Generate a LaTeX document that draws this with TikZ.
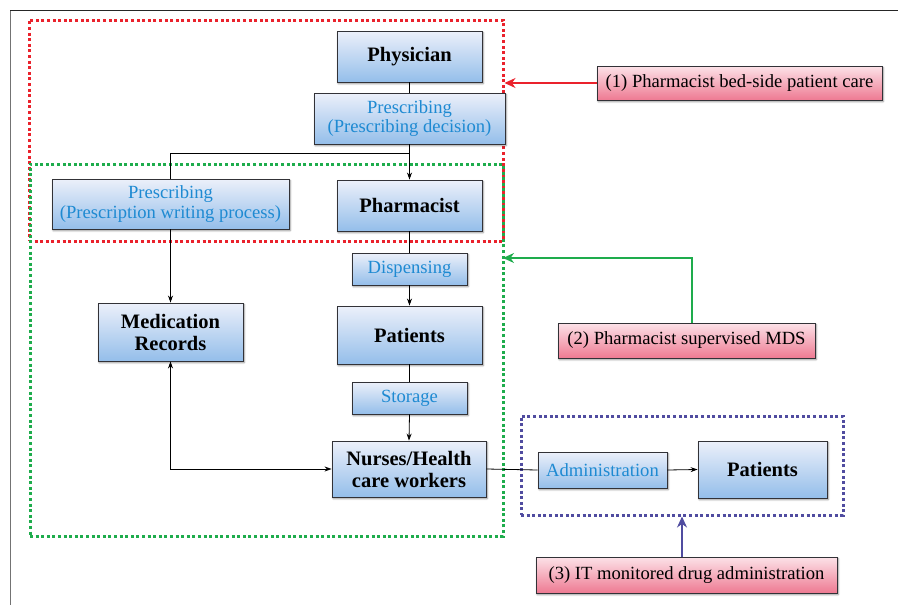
\documentclass[tikz,border=0pt]{standalone}
\usepackage{fontspec}
\setmainfont{Liberation Serif}
\usetikzlibrary{arrows.meta,shadows.blur}

\definecolor{boxtop}{RGB}{236,240,250}
\definecolor{boxbot}{RGB}{148,190,234}
\definecolor{pinktop}{RGB}{252,226,232}
\definecolor{pinkbot}{RGB}{238,122,146}
\definecolor{proc}{RGB}{30,138,210}
\definecolor{zonered}{RGB}{234,34,44}
\definecolor{zonegreen}{RGB}{30,172,76}
\definecolor{zoneblue}{RGB}{80,76,160}
\definecolor{edge}{RGB}{50,50,55}

\tikzset{
  base/.style={draw=edge, line width=0.9pt, inner sep=0pt, align=center,
    blur shadow={shadow xshift=1.2pt, shadow yshift=-1.6pt, shadow blur steps=6, shadow opacity=45}},
  actor/.style={base, top color=boxtop, bottom color=boxbot,
    font=\fontsize{20.5}{22}\selectfont\bfseries},
  process/.style={base, top color=boxtop, bottom color=boxbot, text=proc,
    font=\fontsize{18.6}{19.5}\selectfont},
  model/.style={base, top color=pinktop, bottom color=pinkbot,
    font=\fontsize{18.6}{19.5}\selectfont},
  zone/.style={draw=#1, line width=3pt, dash pattern=on 3pt off 2.6pt, inner sep=0pt},
  flow/.style={draw=black, line width=0.8pt},
  arr/.style={flow, -{Stealth[length=7pt,width=5pt]}},
  twoarr/.style={flow, {Stealth[length=7pt,width=5pt]}-{Stealth[length=7pt,width=5pt]}},
  callout/.style={draw=#1, line width=1.2pt, -{Stealth[length=11pt,width=10pt,inset=3.5pt]}},
}

\begin{document}
\begin{tikzpicture}[x=1pt,y=-1pt]
\useasboundingbox (0,0) rectangle (898,605);

% page frame
\draw[line width=1pt, black!55] (10,605) -- (10,10);
\draw[line width=1pt, black!85] (10,10) -- (898,10);

% zones
\node[zone=zonered, minimum width=474pt, minimum height=221pt] (redzone) at (266,130.5) {};
\node[zone=zonegreen, minimum width=473pt, minimum height=372pt] (greenzone) at (266.5,350) {};
\node[zone=zoneblue, minimum width=322pt, minimum height=99pt] (bluezone) at (682,465.5) {};

% chain of care
\node[actor, minimum width=145pt, minimum height=51pt] (phys) at (409.5,56.5) {Physician};
\node[process, minimum width=191pt, minimum height=51pt] (dec) at (409.5,118.5) {Prescribing\\(Prescribing decision)};
\node[actor, minimum width=145pt, minimum height=51pt] (pharm) at (409.5,205.5) {Pharmacist};
\node[process, minimum width=237pt, minimum height=50pt] (write) at (170.5,204) {Prescribing\\(Prescription writing process)};
\node[actor, minimum width=145pt, minimum height=58pt] (medrec) at (170.5,332) {Medication\\Records};
\node[process, minimum width=115pt, minimum height=32pt] (disp) at (409.5,269) {Dispensing};
\node[actor, minimum width=145pt, minimum height=58pt] (pat) at (409.5,335) {Patients};
\node[process, minimum width=115pt, minimum height=32pt] (stor) at (409.5,398) {Storage};
\node[actor, minimum width=154pt, minimum height=56pt] (nurse) at (409,469) {Nurses/Health\\care workers};
\node[process, minimum width=129pt, minimum height=36pt] (admin) at (602.5,470) {Administration};
\node[actor, minimum width=129pt, minimum height=57pt] (pat2) at (762.5,469.5) {Patients};

% service models
\node[model, minimum width=285pt, minimum height=34pt] (m1) at (739.5,83) {(1) Pharmacist bed-side patient care};
\node[model, minimum width=257pt, minimum height=35pt] (m2) at (686.5,340.5) {(2) Pharmacist supervised MDS};
\node[model, minimum width=301pt, minimum height=36pt] (m3) at (686.5,575) {(3) IT monitored drug administration};

% flow connectors
\coordinate (split) at (409.5,153);
\draw[flow] (phys.south) -- (dec.north);
\draw[arr] (dec.south) -- (pharm.north);
\draw[flow] (split) -| (write.north);
\draw[arr] (write.south) -- (medrec.north);
\draw[flow] (pharm.south) -- (disp.north);
\draw[arr] (disp.south) -- (pat.north);
\draw[flow] (pat.south) -- (stor.north);
\draw[arr] (stor.south) -- (nurse.north);
\draw[twoarr] (medrec.south) |- (nurse.west);
\draw[flow] (nurse.east) -- (admin.west);
\draw[arr] (admin.east) -- (pat2.west);

% callouts to the zones
\coordinate (gin) at (503,258);
\draw[callout=zonered] (m1.west) -- (m1.west -| redzone.east);
\draw[callout=zonegreen] ([xshift=5.5pt]m2.north) |- (gin);
\draw[callout=zoneblue] (m3.north -| bluezone.south) -- (bluezone.south);
\end{tikzpicture}
\end{document}
